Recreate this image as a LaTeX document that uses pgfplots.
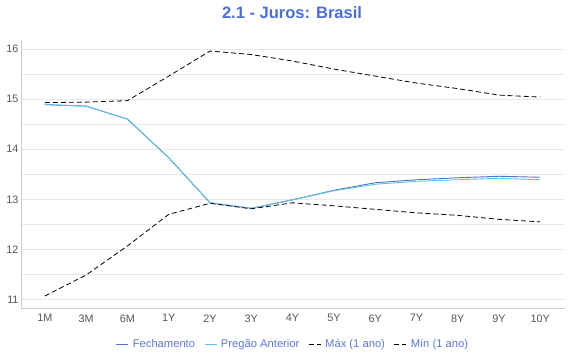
\documentclass[border=0pt]{standalone}
\usepackage{pgfplots}
\pgfplotsset{compat=1.18}
\usepackage{fontspec}
\setmainfont{Liberation Sans}
\definecolor{titleblue}{HTML}{4A6ED6}
\definecolor{legblue}{HTML}{5B78DC}
\definecolor{fech}{HTML}{5470C6}
\definecolor{preg}{HTML}{5BC4E6}
\definecolor{gridc}{HTML}{E8E8E8}
\definecolor{axc}{HTML}{CCCCCC}
\definecolor{tickc}{HTML}{555555}
\begin{document}
\begin{tikzpicture}
\useasboundingbox (0pt,0pt) rectangle (570pt,360pt);
\node[font=\bfseries\fontsize{16.5}{19}\selectfont, text=titleblue] at (292pt,347pt) {2.1 - Juros: Brasil};
\begin{axis}[
  at={(21pt,52pt)}, anchor=south west,
  scale only axis, width=544pt, height=268pt,
  xmin=-0.58, xmax=12.6, ymin=10.83, ymax=16.18,
  xtick={0,...,12},
  xticklabels={1M,3M,6M,1Y,2Y,3Y,4Y,5Y,6Y,7Y,8Y,9Y,10Y},
  ytick={11,12,13,14,15,16},
  minor ytick={11.5,12.5,13.5,14.5,15.5},
  ymajorgrids, yminorgrids,
  major grid style={gridc, line width=0.6pt},
  minor grid style={gridc, line width=0.6pt},
  axis x line*=bottom, axis y line*=left,
  axis line style={axc, line width=0.8pt, -},
  major tick length=0pt, minor tick length=0pt,
  tick label style={text=tickc, font=\fontsize{10.8}{12}\selectfont},
  xticklabel style={yshift=-3pt},
  yticklabel style={xshift=1pt},
  /pgf/number format/assume math mode=true,
  legend columns=4,
  legend style={at={(0.5,0)}, anchor=center, yshift=-36pt, draw=none, fill=none,
    text=legblue, font=\fontsize{11.2}{13}\selectfont,
    /tikz/every even column/.append style={column sep=7pt}},
  legend image code/.code={\draw[#1] (0pt,0pt) -- (12pt,0pt);},
  clip=false,
]
\addplot[fech, line width=0.9pt] coordinates {
(0,14.89) (1,14.86) (2,14.60) (3,13.83) (4,12.93) (5,12.82) (6,12.99) (7,13.18) (8,13.33) (9,13.39) (10,13.43) (11,13.46) (12,13.44)};
\addlegendentry{\hspace{2pt}Fechamento}
\addplot[preg, line width=0.9pt] coordinates {
(0,14.89) (1,14.86) (2,14.60) (3,13.83) (4,12.93) (5,12.82) (6,12.99) (7,13.17) (8,13.30) (9,13.36) (10,13.39) (11,13.42) (12,13.39)};
\addlegendentry{\hspace{2pt}Pregão Anterior}
\addplot[black, line width=0.8pt, dash pattern=on 5pt off 3pt] coordinates {
(0,14.93) (1,14.94) (2,14.97) (3,15.46) (4,15.96) (5,15.89) (6,15.76) (7,15.60) (8,15.46) (9,15.32) (10,15.21) (11,15.08) (12,15.04)};
\addlegendentry{\hspace{2pt}Máx (1 ano)}
\addplot[black, line width=0.8pt, dash pattern=on 5pt off 3pt] coordinates {
(0,11.07) (1,11.49) (2,12.07) (3,12.70) (4,12.92) (5,12.81) (6,12.93) (7,12.87) (8,12.80) (9,12.73) (10,12.68) (11,12.60) (12,12.55)};
\addlegendentry{\hspace{2pt}Mín (1 ano)}
\end{axis}
\end{tikzpicture}
\end{document}
